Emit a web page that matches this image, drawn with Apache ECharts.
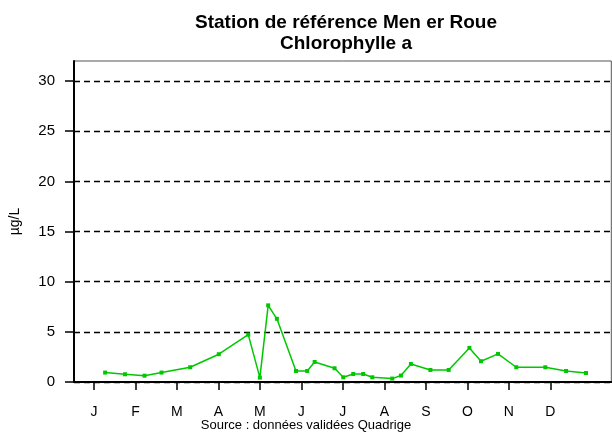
<!DOCTYPE html>
<html>
<head>
<meta charset="utf-8">
<script src="https://cdn.jsdelivr.net/npm/echarts@6/dist/echarts.min.js"></script>
<style>html,body{margin:0;padding:0;background:#fff}#c{width:612px;height:432px}</style>
</head>
<body>
<div id="c"></div>
<script>
// x in month units: 0 = 1 Jan, 1 = 1 Feb, ...
const monthLabels = ['J','F','M','A','M','J','J','A','S','O','N','D'];
const monthTicks = [0,1,2,3,4,5,6,7,8,9,10,11];
const yTicks = [0,5,10,15,20,25,30];
const sampleX = [0.27,0.75,1.22,1.63,2.32,3.01,3.72,4.00,4.20,4.41,4.87,5.14,5.32,5.80,6.01,6.25,6.49,6.71,7.19,7.40,7.64,8.11,8.55,9.05,9.33,9.74,10.18,10.88,11.38,11.86];
const chloroA = [0.94,0.77,0.63,0.94,1.47,2.77,4.72,0.44,7.64,6.3,1.1,1.1,2.0,1.37,0.47,0.8,0.8,0.47,0.34,0.64,1.8,1.2,1.2,3.4,2.07,2.8,1.47,1.47,1.1,0.9];

const chart = echarts.init(document.getElementById('c'), null, {renderer:'canvas'});
const font = 'Liberation Sans, Arial, sans-serif';
chart.setOption({
  animation:false,
  backgroundColor:'#fff',
  title:{
    text:'Station de référence Men er Roue\nChlorophylle a',
    left:341, top:7, textAlign:'center',
    textStyle:{fontFamily:font,fontSize:19,fontWeight:'bold',color:'#000',lineHeight:21}
  },
  grid:{left:72.7, right:0.7, top:61, bottom:50, show:true, borderColor:'#555', borderWidth:1},
  xAxis:{
    type:'value', min:-0.48, max:12.47,
    axisLine:{show:true,onZero:false,lineStyle:{color:'#000',width:2}},
    axisTick:{show:true,inside:false,length:8,customValues:monthTicks,lineStyle:{color:'#000',width:1.5}},
    axisLabel:{show:true,customValues:monthTicks,margin:23,fontFamily:font,fontSize:14,color:'#000',
      formatter:function(v){return monthLabels[Math.round(v)];}},
    splitLine:{show:false}
  },
  yAxis:{
    type:'value', min:0, max:32, interval:5,
    name:'µg/L', nameLocation:'middle', nameGap:52, nameRotate:90,
    nameTextStyle:{fontFamily:font,fontSize:14,color:'#000'},
    axisLine:{show:true,onZero:false,lineStyle:{color:'#000',width:2}},
    axisTick:{show:true,length:9,customValues:yTicks,lineStyle:{color:'#000',width:1.5}},
    axisLabel:{fontFamily:font,fontSize:15,color:'#000',margin:19,
      customValues:yTicks},
    splitLine:{show:true,lineStyle:{color:'#000',width:1.3,type:[6,4]}}
  },
  series:[{
    type:'line',
    data:sampleX.map((x,i)=>[x,chloroA[i]]),
    lineStyle:{color:'#00c800',width:1.5},
    itemStyle:{color:'#00c800'},
    symbol:'rect', symbolSize:4, showSymbol:true
  }],
  graphic:[{
    type:'text', left:'center', top:419,
    style:{text:'Source : données validées Quadrige',fontFamily:font,fontSize:13,fill:'#000'}
  }]
});
</script>
</body>
</html>
